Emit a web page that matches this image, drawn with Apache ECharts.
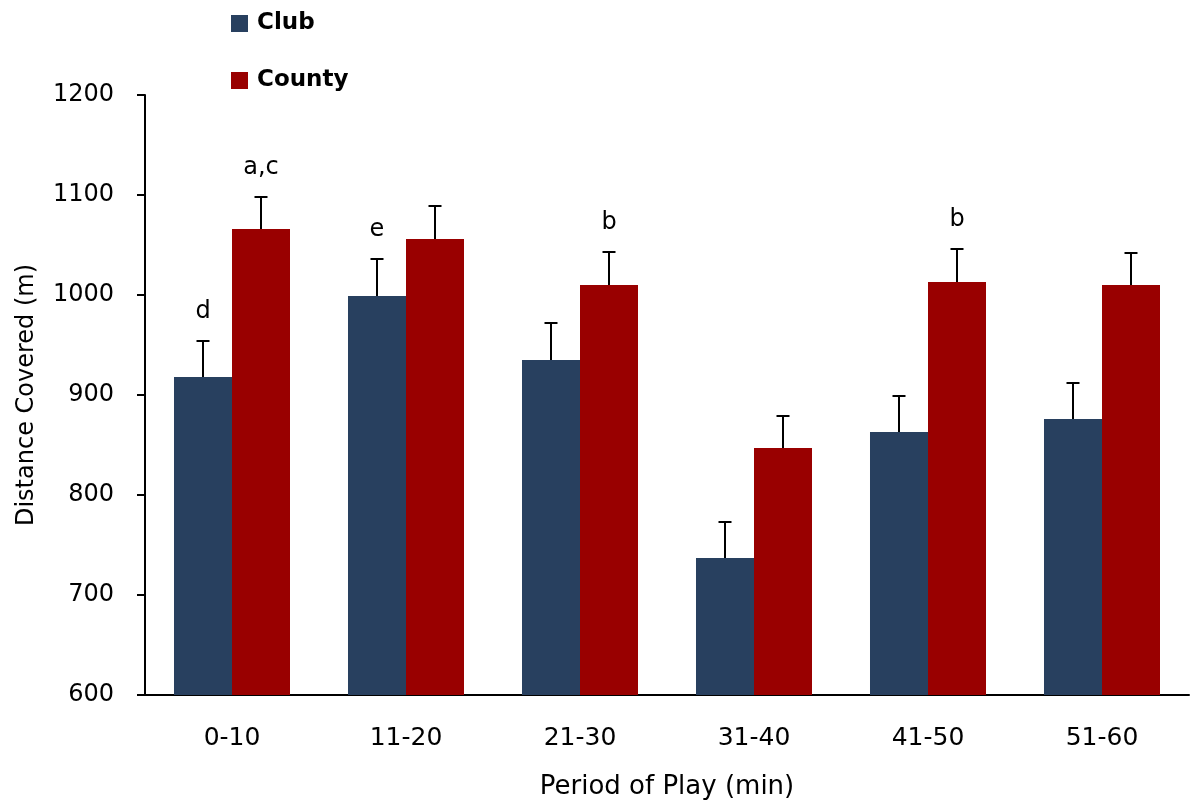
<!DOCTYPE html>
<html>
<head>
<meta charset="utf-8">
<script src="https://cdn.jsdelivr.net/npm/echarts@6/dist/echarts.min.js"></script>
<style>
  html, body { margin: 0; padding: 0; background: #fff; }
  #chart { width: 1190px; height: 803px; }
</style>
</head>
<body>
<div id="chart"></div>
<script>
// Distance covered per 10-minute period of play, club vs county players
const periods = ['0-10', '11-20', '21-30', '31-40', '41-50', '51-60'];
const clubMean = [918, 999, 935, 737, 863, 876];
const clubErr = [36, 37, 37, 36, 36, 36];
const countyMean = [1066, 1056, 1010, 847, 1013, 1010];
const countyErr = [32, 33, 33, 32, 33, 32];
// significance letters drawn above each error bar
const clubLetters = ['d', 'e', '', '', '', ''];
const countyLetters = ['a,c', '', 'b', '', 'b', ''];

const FONT = 'DejaVu Sans';
const CLUB_COLOR = '#28405F';
const COUNTY_COLOR = '#990000';

// Upward-only error bar with a cap, plus an optional letter above it
function errorRenderer(side) {
  return function (params, api) {
    const idx = api.value(0);
    const mean = api.value(1);
    const err = api.value(2);
    const letter = side < 0 ? clubLetters[idx] : countyLetters[idx];
    const band = api.size([1, 0])[0];
    const base = api.coord([idx, mean]);
    const x = base[0] + side * band / 6;
    const top = api.coord([idx, mean + err])[1];
    const cap = 6.5;
    const children = [
      { type: 'line', shape: { x1: x, y1: base[1], x2: x, y2: top },
        style: { stroke: '#000', lineWidth: 2 } },
      { type: 'line', shape: { x1: x - cap, y1: top, x2: x + cap, y2: top },
        style: { stroke: '#000', lineWidth: 2 } }
    ];
    if (letter) {
      children.push({
        type: 'text',
        style: {
          text: letter, x: x, y: top - 29,
          align: 'center', verticalAlign: 'middle',
          font: '24px "' + FONT + '"', fill: '#000'
        }
      });
    }
    return { type: 'group', children: children };
  };
}

const chart = echarts.init(document.getElementById('chart'), null, { renderer: 'canvas' });
chart.setOption({
  animation: false,
  textStyle: { fontFamily: FONT },
  grid: { left: 145, right: 1, top: 95, bottom: 108, containLabel: false, outerBoundsMode: 'none' },
  legend: {
    orient: 'vertical',
    left: 231, top: 12, padding: 0,
    itemWidth: 17, itemHeight: 17, itemGap: 34,
    icon: 'rect',
    data: ['Club', 'County'],
    textStyle: { fontFamily: FONT, fontSize: 23, fontWeight: 'bold', color: '#000', padding: [0, 0, 0, 4] }
  },
  xAxis: {
    type: 'category',
    data: periods,
    name: 'Period of Play (min)',
    nameLocation: 'middle',
    nameGap: 79,
    nameTextStyle: { fontFamily: FONT, fontSize: 26, color: '#000' },
    axisLine: { lineStyle: { color: '#000', width: 2 } },
    axisTick: { show: false },
    axisLabel: { fontFamily: FONT, fontSize: 25, color: '#000', margin: 31 }
  },
  yAxis: {
    type: 'value',
    min: 600, max: 1200, interval: 100,
    name: 'Distance Covered (m)',
    nameLocation: 'middle',
    nameGap: 106,
    nameTextStyle: { fontFamily: FONT, fontSize: 24, color: '#000' },
    axisLine: { show: true, lineStyle: { color: '#000', width: 2 } },
    axisTick: { show: true, length: 8, lineStyle: { color: '#000', width: 2 } },
    splitLine: { show: false },
    axisLabel: { fontFamily: FONT, fontSize: 24, color: '#000', margin: 31,
                 padding: [10, 0, 0, 0],
                 formatter: (v) => String(v) }
  },
  series: [
    {
      name: 'Club', type: 'bar', data: clubMean,
      barGap: '0%', barCategoryGap: '33.33%',
      itemStyle: { color: CLUB_COLOR }
    },
    {
      name: 'County', type: 'bar', data: countyMean,
      itemStyle: { color: COUNTY_COLOR }
    },
    {
      name: 'ClubErr', type: 'custom',
      renderItem: errorRenderer(-1),
      data: clubMean.map((m, i) => [i, m, clubErr[i]]),
      encode: { x: 0, y: 1 }, z: 5, silent: true
    },
    {
      name: 'CountyErr', type: 'custom',
      renderItem: errorRenderer(1),
      data: countyMean.map((m, i) => [i, m, countyErr[i]]),
      encode: { x: 0, y: 1 }, z: 5, silent: true
    }
  ]
});
</script>
</body>
</html>
